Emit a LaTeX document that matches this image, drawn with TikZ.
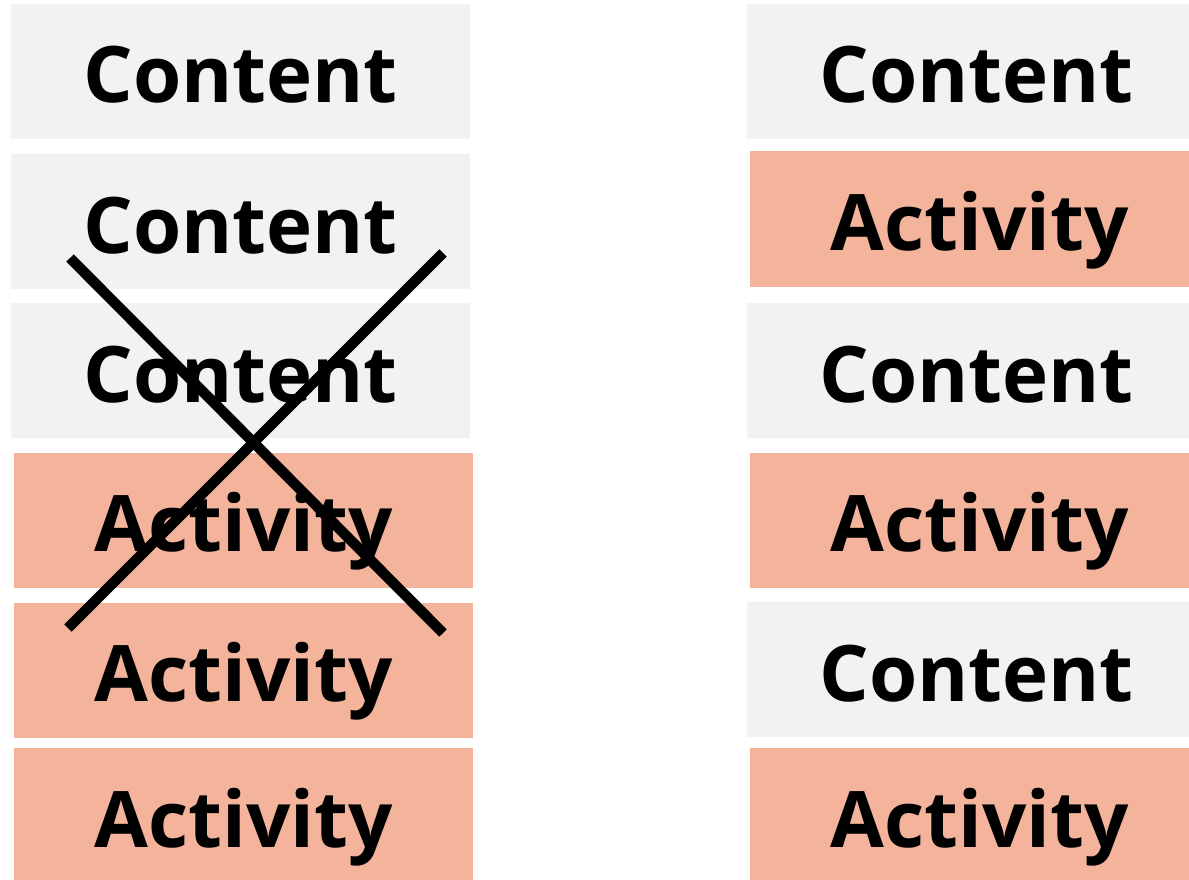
\documentclass[tikz,border=0pt]{standalone}
\usepackage{fontspec}
\setmainfont{Open Sans}
\definecolor{contentgray}{HTML}{F2F2F2}
\definecolor{activitysalmon}{HTML}{F4B49B}
\begin{document}
\begin{tikzpicture}[x=1pt,y=-1pt,
  blk/.style={inner sep=0pt, minimum width=459pt, text height=99pt, text depth=36pt,
    font=\fontsize{78}{88}\selectfont\bfseries, text=black, align=center},
  contentbox/.style={blk, fill=contentgray},
  activitybox/.style={blk, fill=activitysalmon},
  crossline/.style={line width=10.5pt, draw=black}]
\useasboundingbox (0,0) rectangle (1189,880);
% left column
\node[contentbox]  (l1) at (240.5,71.5) {Content};
\node[contentbox]  (l2) at (240.5,221.5) {Content};
\node[contentbox]  (l3) at (240.5,370.5) {Content};
\node[activitybox] (l4) at (243.5,520) {Activity};
\node[activitybox] (l5) at (243.5,670) {Activity};
\node[activitybox] (l6) at (243.5,815.5) {Activity};
% right column
\node[contentbox]  (r1) at (976.5,71.5) {Content};
\node[activitybox] (r2) at (979.5,219) {Activity};
\node[contentbox]  (r3) at (976.5,370.5) {Content};
\node[activitybox] (r4) at (979.5,520) {Activity};
\node[contentbox]  (r5) at (976.5,669.5) {Content};
\node[activitybox] (r6) at (979.5,815.5) {Activity};
% cross
\coordinate (xa) at (70,258);
\coordinate (xb) at (443,633);
\coordinate (xc) at (443,253);
\coordinate (xd) at (68,628);
\draw[crossline] (xa) -- (xb);
\draw[crossline] (xc) -- (xd);
\end{tikzpicture}
\end{document}
